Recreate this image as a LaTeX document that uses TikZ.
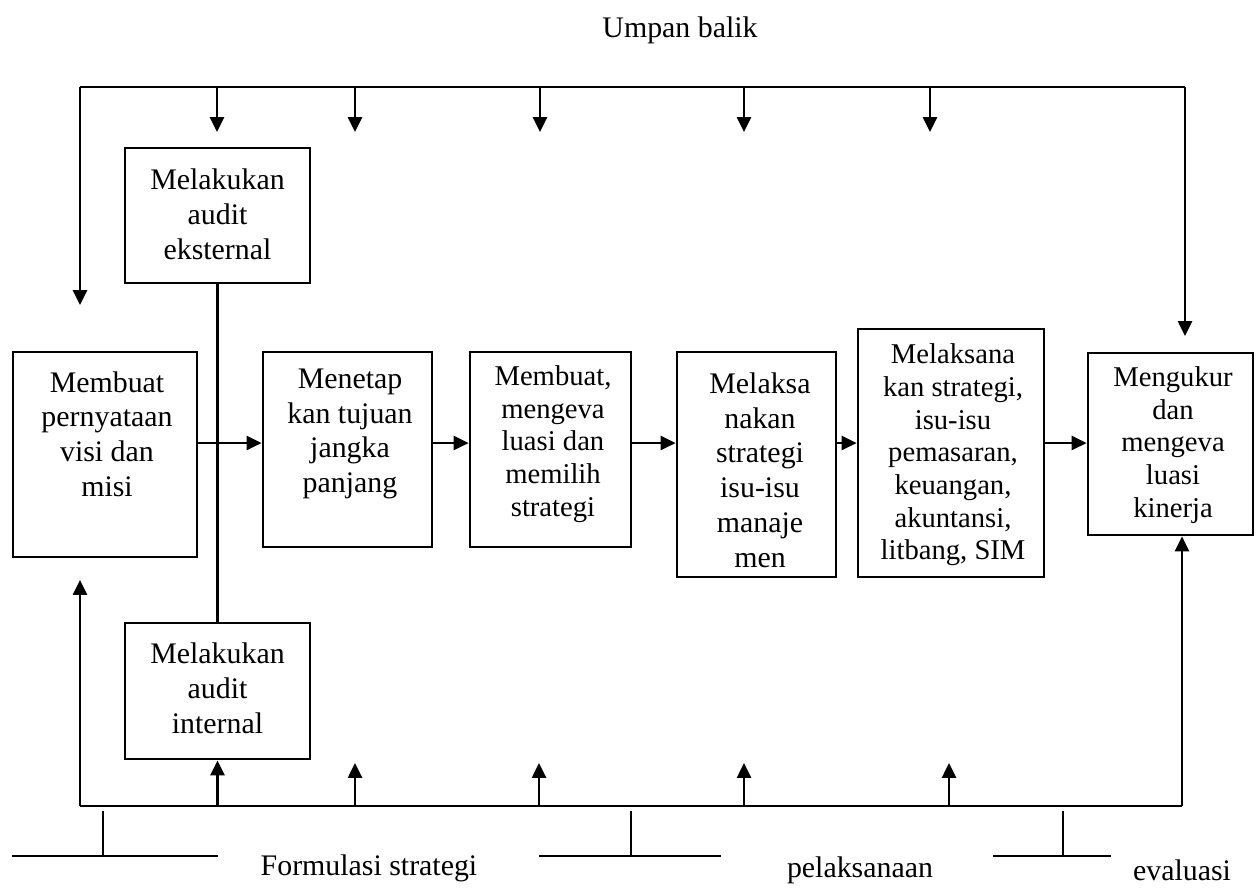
\documentclass[tikz,border=0pt]{standalone}
\usepackage{fontspec}
\setmainfont{Liberation Serif}
\usetikzlibrary{arrows.meta}
\begin{document}
\begin{tikzpicture}[x=0.02cm,y=-0.02cm,line width=1.3pt,
  box/.style={draw, rectangle, inner sep=0pt, line width=1.6pt},
  txt/.style={align=center, font=\fontsize{17}{19.8}\selectfont, inner sep=0pt},
  txts/.style={align=center, font=\fontsize{16.3}{18.6}\selectfont, inner sep=0pt},
  arr/.style={-{Triangle[length=8.5pt,width=8pt]}},
]
\useasboundingbox (0,0) rectangle (1256,887);

% process boxes
\node[box, minimum width=3.68cm, minimum height=4.10cm] (b1) at (105,454.5) {};
\node[box, minimum width=3.38cm, minimum height=3.90cm] (b2) at (347.5,449.5) {};
\node[box, minimum width=3.22cm, minimum height=3.90cm] (b3) at (550.5,449.5) {};
\node[box, minimum width=3.18cm, minimum height=4.50cm] (b4) at (756.5,464.5) {};
\node[box, minimum width=3.72cm, minimum height=4.96cm] (b5) at (951,453) {};
\node[box, minimum width=3.30cm, minimum height=3.64cm] (b6) at (1170.5,444) {};
\node[box, minimum width=3.70cm, minimum height=2.70cm] (ext) at (217.5,215.5) {};
\node[box, minimum width=3.70cm, minimum height=2.72cm] (int) at (217.5,691) {};

% box texts
\node[txt] (t1) at (107,434) {Membuat\\pernyataan\\visi dan\\misi};
\node[txt] (t2) at (350,434) {Menetap\\kan tujuan\\jangka\\panjang};
\node[txts] (t3) at (553,444) {Membuat,\\mengeva\\luasi dan\\memilih\\strategi};
\node[txt] (t4) at (760,470) {Melaksa\\nakan\\strategi\\isu-isu\\manaje\\men};
\node[txts] (t5) at (953,455) {Melaksana\\kan strategi,\\isu-isu\\pemasaran,\\keuangan,\\akuntansi,\\litbang, SIM};
\node[txts] (t6) at (1173,445) {Mengukur\\dan\\mengeva\\luasi\\kinerja};
\node[txt] (te) at (217.5,214) {Melakukan\\audit\\eksternal};
\node[txt] (ti) at (217.5,688) {Melakukan\\audit\\internal};

% main flow
\coordinate (flow) at (0,443);
\draw[arr] (b1.east |- flow) -- (b2.west |- flow);
\draw[arr] (b2.east |- flow) -- (b3.west |- flow);
\draw[arr] (b3.east |- flow) -- (b4.west |- flow);
\draw[arr] (b4.east |- flow) -- (b5.west |- flow);
\draw[arr] (b5.east |- flow) -- (b6.west |- flow);

% audit link
\draw (ext.south) -- (int.north);

% feedback on top
\coordinate (tl) at (80,87);
\coordinate (tr) at (1185,87);
\coordinate (fbl) at (80,305);
\coordinate (fbr) at (1185,336);
\draw (tl) -- (tr);
\draw[arr] (tl) -- (fbl);
\draw[arr] (tr) -- (fbr);
\foreach \x [count=\i] in {217,355,540,744,930} {
  \coordinate (dn\i) at (\x,132);
  \draw[arr] (\x,87) -- (dn\i);
}

% feedback at bottom
\coordinate (bl) at (80,806);
\coordinate (br) at (1182,806);
\coordinate (fbu) at (80,580);
\draw (bl) -- (br);
\draw[arr] (bl) -- (fbu);
\draw[arr] (br) -- (b6.south -| br);
\draw[arr] (int.south |- bl) -- (int.south);
\foreach \x [count=\i] in {355,539,744,949} {
  \coordinate (up\i) at (\x,763);
  \draw[arr] (\x,806) -- (up\i);
}

% stage brackets
\draw (12,856) -- (218,856);
\draw (103,811) -- (103,856);
\draw (539,856) -- (721,856);
\draw (631,811) -- (631,856);
\draw (993,856) -- (1111,856);
\draw (1063,811) -- (1063,856);

% labels
\node[txt] (umpan) at (680,30) {Umpan balik};
\node[txt] (form) at (369,868) {Formulasi strategi};
\node[txt] (pel) at (860,870) {pelaksanaan};
\node[txt] (eval) at (1182,870) {evaluasi};
\end{tikzpicture}
\end{document}
